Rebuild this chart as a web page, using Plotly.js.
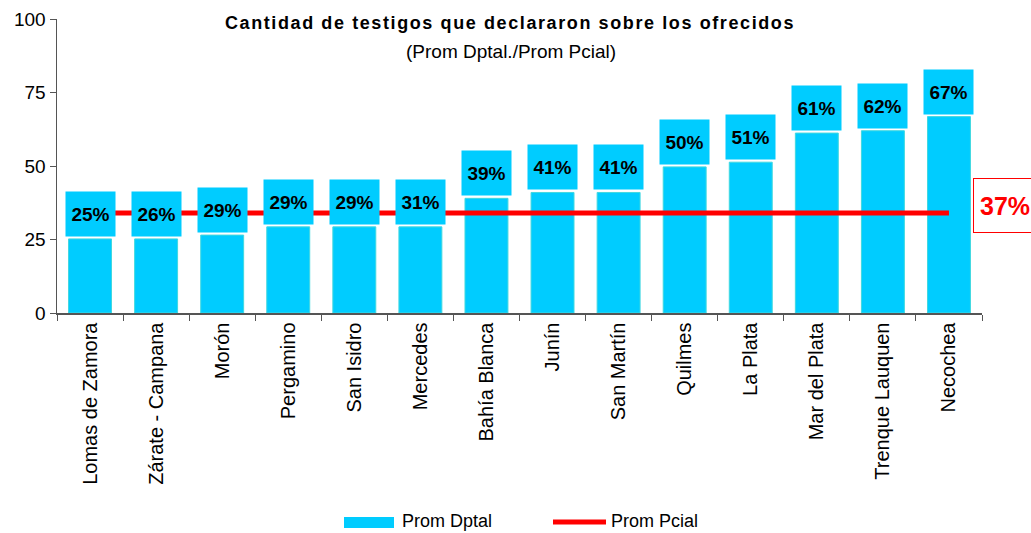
<!DOCTYPE html>
<html>
<head>
<meta charset="utf-8">
<script src="https://cdn.plot.ly/plotly-3.0.1.min.js"></script>
<style>html,body{margin:0;padding:0;background:#fff;}#chart{width:1031px;height:533px;}
#chart .gtitle{letter-spacing:1.6px;}</style>
</head>
<body>
<div id="chart"></div>
<script>
const categories = ["Lomas de Zamora","Zárate - Campana","Morón","Pergamino","San Isidro","Mercedes","Bahía Blanca","Junín","San Martín","Quilmes","La Plata","Mar del Plata","Trenque Lauquen","Necochea"];
const promDptal = [25.2, 25.2, 26.5, 29.3, 29.3, 29.3, 39, 41, 41, 49.7, 51.3, 61.2, 62, 66.8];
const barLabels = ["25%","26%","29%","29%","29%","31%","39%","41%","41%","50%","51%","61%","62%","67%"];
const promPcial = [34, 34, 34, 34, 34, 34, 34, 34, 34, 34, 34, 34, 34, 34];
const pcialLabel = "37%";
const titleText = "Cantidad de testigos que declararon sobre los ofrecidos";
const subtitleText = "(Prom Dptal./Prom Pcial)";
const legendNames = ["Prom Dptal", "Prom Pcial"];

const FONT = "Liberation Sans, Arial, sans-serif";
const CYAN = "#00CCFF";

const traces = [
  {
    type: "bar", x: categories, y: promDptal, name: legendNames[0],
    width: 0.65,
    marker: {color: CYAN, line: {color: "#40D8E0", width: 1}},
    hoverinfo: "skip", showlegend: false
  },
  {
    type: "scatter", mode: "lines", x: categories, y: promPcial, name: legendNames[1],
    line: {color: "#FF0000", width: 5},
    hoverinfo: "skip", showlegend: false
  }
];

const annotations = categories.map((c, i) => ({
  x: c, y: promDptal[i], xref: "x", yref: "y",
  text: "<b>" + barLabels[i] + "</b>",
  showarrow: false, yanchor: "bottom", xanchor: "center", yshift: 2,
  width: 49, height: 44, borderpad: 0, bgcolor: CYAN,
  font: {family: FONT, size: 19, color: "#000"}, valign: "middle"
}));

annotations.push({
  xref: "paper", yref: "paper", x: 0.99, y: (313 - 205) / 294,
  xanchor: "left", yanchor: "middle",
  text: "<b>" + pcialLabel + "</b>", showarrow: false,
  align: "left", width: 70, height: 41, borderpad: 6,
  bgcolor: "#fff", bordercolor: "#FF0000", borderwidth: 1,
  font: {family: FONT, size: 25, color: "#FF0000"}
});

annotations.push({
  xref: "paper", yref: "paper", x: (511 - 57) / 925, y: (313 - 51) / 294,
  xanchor: "center", yanchor: "middle", showarrow: false,
  text: subtitleText, font: {family: FONT, size: 19, color: "#000"}
});

function px(xp){ return (xp - 57) / 925; }
function py(yp){ return (313 - yp) / 294; }

annotations.push({
  xref: "paper", yref: "paper", x: px(401), y: py(532), xanchor: "left", yanchor: "bottom",
  showarrow: false, borderpad: 0, text: legendNames[0], font: {family: FONT, size: 18, color: "#000"}
});
annotations.push({
  xref: "paper", yref: "paper", x: px(610), y: py(532), xanchor: "left", yanchor: "bottom",
  showarrow: false, borderpad: 0, text: legendNames[1], font: {family: FONT, size: 18, color: "#000"}
});

const shapes = [
  {type: "rect", xref: "paper", yref: "paper", x0: px(344), x1: px(394), y0: py(517), y1: py(528),
   fillcolor: CYAN, line: {width: 0}},
  {type: "line", xref: "paper", yref: "paper", x0: px(553), x1: px(606), y0: py(522), y1: py(522),
   line: {color: "#FF0000", width: 5}}
];

const layout = {
  width: 1031, height: 533,
  margin: {l: 57, r: 49, t: 19, b: 220, pad: 0},
  paper_bgcolor: "#fff", plot_bgcolor: "#fff",
  showlegend: false,
  title: {
    text: "<b>" + titleText + "</b>",
    xref: "container", yref: "container", x: 510 / 1031, y: 1 - 23 / 533,
    xanchor: "center", yanchor: "middle",
    font: {family: FONT, size: 18, color: "#000"}
  },
  xaxis: {
    type: "category", showline: true, linecolor: "#555", linewidth: 1.5,
    ticks: "outside", tickson: "boundaries", ticklen: 6, tickcolor: "#555",
    tickangle: -90, tickfont: {family: FONT, size: 20, color: "#000"},
    showgrid: false, zeroline: false, fixedrange: true
  },
  yaxis: {
    range: [0, 100], dtick: 25, tick0: 0, showline: true, linecolor: "#555", linewidth: 1.5,
    ticks: "outside", ticklen: 6, tickcolor: "#555",
    tickfont: {family: FONT, size: 19, color: "#000"},
    showgrid: false, zeroline: false, fixedrange: true
  },
  annotations: annotations,
  shapes: shapes
};

Plotly.newPlot("chart", traces, layout, {displayModeBar: false, staticPlot: true});
</script>
</body>
</html>
